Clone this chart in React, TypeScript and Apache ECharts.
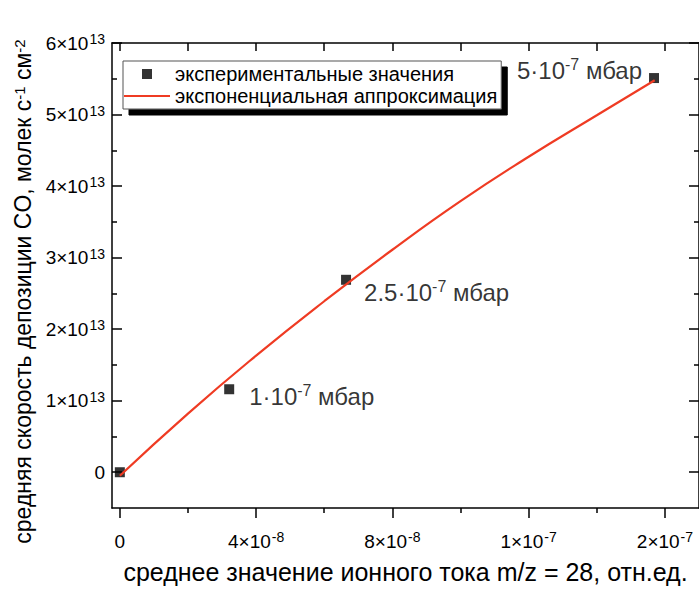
import React, { useEffect, useRef } from "react";
import * as echarts from "echarts";

// ---- data ----
const expX = [0, 3.21e-8, 6.64e-8, 1.568e-7];
const expY = [0, 1.16e13, 2.69e13, 5.51e13];
const pressureMantissa = ["", "1", "2.5", "5"];
const pressureExponent = "-7";
const pressureUnit = "мбар";

const fitX = [0, 2e-8, 4e-8, 6e-8, 8e-8, 1e-7, 1.2e-7, 1.4e-7, 1.57e-7];
const fitY = [-0.05e13, 0.82e13, 1.63e13, 2.39e13, 3.11e13, 3.79e13, 4.41e13, 4.99e13, 5.48e13];

const xTickValues = [0, 4e-8, 8e-8, 1.2e-7, 1.6e-7];
const xTickMantissa = ["0", "4", "8", "1", "2"];
const xTickExponent = ["", "-8", "-8", "-7", "-7"];
const xMinorTickValues = [2e-8, 6e-8, 1e-7, 1.4e-7];
const xTopTickValues = [0, 2e-8, 4e-8, 6e-8, 8e-8, 1e-7, 1.2e-7, 1.4e-7, 1.6e-7];

const yTickValues = [0, 1e13, 2e13, 3e13, 4e13, 5e13, 6e13];
const yTickMantissa = ["0", "1", "2", "3", "4", "5", "6"];
const yTickExponent = ["", "13", "13", "13", "13", "13", "13"];
const yMinorTickValues = [0.5e13, 1.5e13, 2.5e13, 3.5e13, 4.5e13, 5.5e13];

const seriesNames = ["экспериментальные значения", "экспоненциальная аппроксимация"];
const xAxisTitle = "среднее значение ионного тока m/z = 28, отн.ед.";
const yAxisTitle = "средняя скорость депозиции CO, молек с{s|-1} см{s|-2}";

const X_MIN = -0.23e-8;
const X_MAX = 1.7e-7;
const Y_MIN = -0.5e13;
const Y_MAX = 6e13;

const FONT = "'Liberation Sans', Arial, sans-serif";
const LINE_COLOR = "#ef3b23";

function findIdx(list: number[], v: number) {
  for (let i = 0; i < list.length; i++) {
    if (Math.abs(list[i] - v) <= Math.abs(list[i]) * 1e-6 + 1e-30) return i;
  }
  return -1;
}

function powLabel(mant: string, exp: string) {
  if (!exp) return `{b|${mant}}`;
  return `{b|${mant}×10}{s|${exp}}`;
}

const tickRich = {
  b: { fontSize: 19, fontFamily: FONT, color: "#000", lineHeight: 22 },
  s: { fontSize: 14, fontFamily: FONT, color: "#000", verticalAlign: "top" as const, lineHeight: 13, padding: [0, 0, 0, 1] },
};

const annRich = {
  t: { fontSize: 24, fontFamily: FONT, color: "#000", lineHeight: 28 },
  s: { fontSize: 16, fontFamily: FONT, color: "#000", verticalAlign: "top" as const, lineHeight: 15 },
};

const labelPlacement: any[] = [
  null,
  { position: "right", distance: 15, offset: [0, 7] },
  { position: "right", distance: 13, offset: [0, 13] },
  { position: "left", distance: 7, offset: [0, -8] },
];

export default function App() {
  const ref = useRef<HTMLDivElement>(null);

  useEffect(() => {
    if (!ref.current) return;
    const chart = echarts.init(ref.current, null, { renderer: "svg" });

    const black = "#000";
    const baseAxis = {
      type: "value" as const,
      min: X_MIN,
      max: X_MAX,
      splitLine: { show: false },
    };
    const baseYAxis = {
      type: "value" as const,
      min: Y_MIN,
      max: Y_MAX,
      splitLine: { show: false },
    };

    const scatterData = expX.map((x, i) => {
      const p = labelPlacement[i];
      const item: any = { value: [x, expY[i]] };
      if (p && pressureMantissa[i]) {
        item.label = {
          show: true,
          position: p.position,
          distance: p.distance,
          offset: p.offset,
          formatter: `{t|${pressureMantissa[i]}·10}{s|${pressureExponent}}{t| ${pressureUnit}}`,
          rich: annRich,
        };
      }
      return item;
    });

    const option: any = {
      animation: false,
      backgroundColor: "#fff",
      textStyle: { fontFamily: FONT },
      grid: { left: 112, top: 43, width: 590, height: 472, show: false },
      legend: {
        left: 123,
        top: 61,
        orient: "vertical",
        backgroundColor: "#fff",
        borderColor: "#555",
        borderWidth: 1,
        shadowColor: "#000",
        shadowBlur: 0,
        shadowOffsetX: 6,
        shadowOffsetY: 6,
        padding: [3, 4, 3, 1],
        itemGap: 2,
        itemWidth: 46,
        itemHeight: 10,
        symbolKeepAspect: true,
        selectedMode: false,
        textStyle: { fontSize: 20, fontFamily: FONT, color: "#000" },
        data: [
          { name: seriesNames[0], icon: "path://M0,0h10v10h-10z", itemStyle: { color: "#000" } },
          { name: seriesNames[1], icon: "path://M0,0h46v2h-46z", itemStyle: { color: LINE_COLOR } },
        ],
      },
      xAxis: [
        {
          ...baseAxis,
          position: "bottom",
          axisLine: { show: true, onZero: false, lineStyle: { color: black, width: 1.5 } },
          axisTick: { show: true, inside: false, length: 10, customValues: xTickValues, lineStyle: { color: black, width: 1.5 } },
          axisLabel: {
            show: true,
            margin: 22,
            customValues: xTickValues,
            formatter: (v: number) => {
              const i = findIdx(xTickValues, v);
              return i < 0 ? "" : powLabel(xTickMantissa[i], xTickExponent[i]);
            },
            rich: tickRich,
          },
          name: xAxisTitle,
          nameLocation: "middle",
          nameGap: 51,
          nameTextStyle: { fontSize: 25, fontFamily: FONT, color: black },
        },
        {
          ...baseAxis,
          position: "bottom",
          axisLine: { show: false, onZero: false },
          axisTick: { show: true, inside: false, length: 5, customValues: xMinorTickValues, lineStyle: { color: black, width: 1.5 } },
          axisLabel: { show: false },
        },
        {
          ...baseAxis,
          position: "top",
          axisLine: { show: true, onZero: false, lineStyle: { color: black, width: 1.5 } },
          axisTick: { show: true, inside: true, length: 8, customValues: xTopTickValues, lineStyle: { color: black, width: 1.5 } },
          axisLabel: { show: false },
        },
      ],
      yAxis: [
        {
          ...baseYAxis,
          position: "left",
          axisLine: { show: true, onZero: false, lineStyle: { color: black, width: 1.5 } },
          axisTick: { show: true, inside: true, length: 10, customValues: yTickValues, lineStyle: { color: black, width: 1.5 } },
          axisLabel: {
            show: true,
            margin: 7,
            customValues: yTickValues,
            formatter: (v: number) => {
              const i = findIdx(yTickValues, v);
              return i < 0 ? "" : powLabel(yTickMantissa[i], yTickExponent[i]);
            },
            rich: tickRich,
          },
          name: yAxisTitle,
          nameLocation: "middle",
          nameGap: 72,
          nameTextStyle: {
            fontSize: 23,
            fontFamily: FONT,
            color: black,
            padding: [0, 32, 0, 0],
            rich: { s: { fontSize: 15, fontFamily: FONT, color: black, verticalAlign: "top", lineHeight: 13 } },
          },
        },
        {
          ...baseYAxis,
          position: "left",
          axisLine: { show: false, onZero: false },
          axisTick: { show: true, inside: true, length: 5, customValues: yMinorTickValues, lineStyle: { color: black, width: 1.5 } },
          axisLabel: { show: false },
        },
        {
          ...baseYAxis,
          position: "right",
          axisLine: { show: true, onZero: false, lineStyle: { color: black, width: 1.5 } },
          axisTick: { show: true, inside: true, length: 10, customValues: yTickValues, lineStyle: { color: black, width: 1.5 } },
          axisLabel: { show: false },
        },
        {
          ...baseYAxis,
          position: "right",
          axisLine: { show: false, onZero: false },
          axisTick: { show: true, inside: true, length: 5, customValues: yMinorTickValues, lineStyle: { color: black, width: 1.5 } },
          axisLabel: { show: false },
        },
      ],
      series: [
        {
          name: seriesNames[0],
          type: "scatter",
          xAxisIndex: 0,
          yAxisIndex: 0,
          symbol: "rect",
          symbolSize: 10,
          itemStyle: { color: "#000" },
          data: scatterData,
          z: 2,
        },
        {
          name: seriesNames[1],
          type: "line",
          xAxisIndex: 0,
          yAxisIndex: 0,
          symbol: "none",
          showSymbol: false,
          smooth: true,
          lineStyle: { color: LINE_COLOR, width: 2.2 },
          itemStyle: { color: LINE_COLOR },
          data: fitX.map((x, i) => [x, fitY[i]]),
          z: 3,
        },
      ],
    };

    chart.setOption(option);
    return () => chart.dispose();
  }, []);

  return (
    <div
      ref={ref}
      style={{ position: "fixed", left: 0, top: 0, width: 699, height: 589, background: "#fff" }}
    />
  );
}
